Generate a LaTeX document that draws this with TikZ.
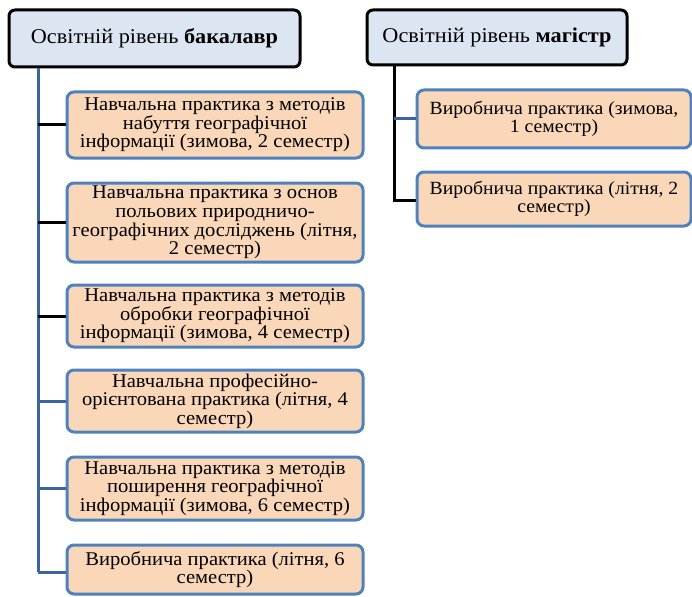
\documentclass[tikz,border=0pt]{standalone}
\usepackage{fontspec}
\setmainfont{Liberation Serif}[FakeStretch=1.06]
\definecolor{hdrfill}{RGB}{220,230,242}
\definecolor{boxfill}{RGB}{250,215,184}
\definecolor{boxline}{RGB}{79,129,189}
\definecolor{conblue}{RGB}{60,100,160}
\tikzset{
  hdr/.style={draw=black, line width=3pt, rounded corners=6pt, fill=hdrfill,
    inner sep=0pt, align=center, font=\fontsize{21}{24}\selectfont},
  item/.style={draw=boxline, line width=3pt, rounded corners=7pt, fill=boxfill,
    inner sep=0pt, align=center, font=\fontsize{#1}{18.6}\selectfont},
  item/.default=19.4,
  bl/.style={draw=conblue, line width=3pt},
  kl/.style={draw=black, line width=3pt}
}
\begin{document}
\begin{tikzpicture}[x=1pt,y=-1pt]
\useasboundingbox (0,0) rectangle (692,596);
\node[hdr, minimum width=291pt, minimum height=57pt] (bach) at (154.5,38.5) {Освітній рівень \textbf{бакалавр}};
\node[hdr, minimum width=260pt, minimum height=55pt] (mag) at (497,37.5) {Освітній рівень \textbf{магістр}};

\node[item, minimum width=296pt, minimum height=66pt] (b1) at (215,125) {Навчальна практика з методів\\набуття географічної\\інформації (зимова, 2 семестр)};
\node[item, minimum width=296pt, minimum height=79pt] (b2) at (215,222.5) {Навчальна практика з основ\\польових природничо-\\географічних досліджень (літня,\\2 семестр)};
\node[item, minimum width=296pt, minimum height=62pt] (b3) at (215,316) {Навчальна практика з методів\\обробки географічної\\інформації (зимова, 4 семестр)};
\node[item, minimum width=296pt, minimum height=62pt] (b4) at (215,401) {Навчальна професійно-\\орієнтована практика (літня, 4\\семестр)};
\node[item, minimum width=296pt, minimum height=63pt] (b5) at (215,488.5) {Навчальна практика з методів\\поширення географічної\\інформації (зимова, 6 семестр)};
\node[item, minimum width=296pt, minimum height=49pt] (b6) at (215,569.5) {Виробнича практика (літня, 6\\семестр)};

\node[item=18.6, minimum width=274pt, minimum height=58pt] (m1) at (554,119) {Виробнича практика (зимова,\\1 семестр)};
\node[item=18.6, minimum width=274pt, minimum height=54pt] (m2) at (554,199) {Виробнича практика (літня, 2\\семестр)};

\coordinate (bv) at (38,572);
\coordinate (mv) at (394,200);
\draw[bl] (bach.south -| bv) -- (bv);
\draw[kl] (b1.west -| bv) -- (b1.west);
\draw[kl] (b2.west -| bv) -- (b2.west);
\draw[kl] (b3.west -| bv) -- (b3.west);
\draw[bl] (b4.west -| bv) -- (b4.west);
\draw[bl] (b5.west -| bv) -- (b5.west);
\draw[bl] (bv) -- (b6.west |- bv);

\draw[kl] (mag.south -| mv) -- (mv) -- (m2.west |- mv);
\draw[bl] (m1.west -| mv) -- (m1.west);
\end{tikzpicture}
\end{document}
